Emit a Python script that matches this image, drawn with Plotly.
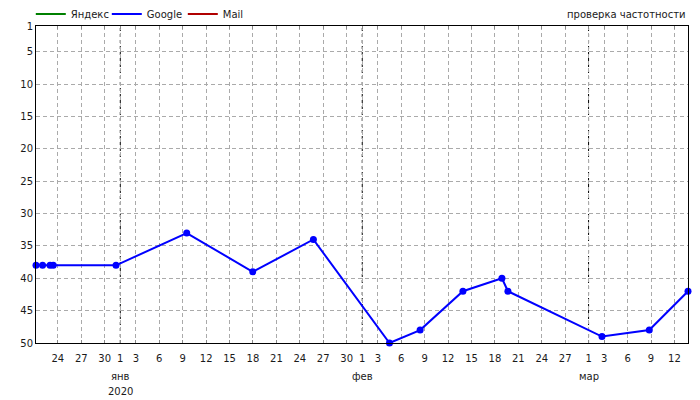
import plotly.graph_objects as go

# ---- data ----
google_dates = [
    "2019-12-21 04:48", "2019-12-22 01:00", "2019-12-23 00:00", "2019-12-23 09:50",
    "2019-12-31 10:50", "2020-01-09 12:20", "2020-01-17 23:20", "2020-01-25 17:50",
    "2020-02-04 11:45", "2020-02-08 10:00", "2020-02-13 21:35", "2020-02-18 21:35",
    "2020-02-19 16:00", "2020-03-02 17:15", "2020-03-08 18:45", "2020-03-13 17:45",
]
google_pos = [38, 38, 38, 38, 38, 33, 39, 34, 50, 48, 42, 40, 42, 49, 48, 42]

yandex_dates = [None]
yandex_pos = [None]
mail_dates = [None]
mail_pos = [None]

tick_dates = [
    "2019-12-24", "2019-12-27", "2019-12-30", "2020-01-01", "2020-01-03", "2020-01-06",
    "2020-01-09", "2020-01-12", "2020-01-15", "2020-01-18", "2020-01-21", "2020-01-24",
    "2020-01-27", "2020-01-30", "2020-02-01", "2020-02-03", "2020-02-06", "2020-02-09",
    "2020-02-12", "2020-02-15", "2020-02-18", "2020-02-21", "2020-02-24", "2020-02-27",
    "2020-03-01", "2020-03-03", "2020-03-06", "2020-03-09", "2020-03-12",
]
tick_text = [d[-2:].lstrip("0") for d in tick_dates]

month_starts = ["2020-01-01", "2020-02-01", "2020-03-01"]
month_names = ["янв", "фев", "мар"]
year_label = "2020"

y_ticks = [1, 5, 10, 15, 20, 25, 30, 35, 40, 45, 50]

FONT = "DejaVu Sans, Verdana, sans-serif"
TXT = "#1a1a1a"
FS = 10

fig = go.Figure()
fig.add_trace(go.Scatter(x=yandex_dates, y=yandex_pos, name="Яндекс", mode="lines",
                         line=dict(color="#008000", width=2)))
# legend entry for Google (line only, as in the reference legend)
fig.add_trace(go.Scatter(x=[None], y=[None], name="Google", mode="lines",
                         legendgroup="g", line=dict(color="#0000FF", width=2)))
fig.add_trace(go.Scatter(x=mail_dates, y=mail_pos, name="Mail", mode="lines",
                         line=dict(color="#B00000", width=2)))
fig.add_trace(go.Scatter(x=google_dates, y=google_pos, name="Google", mode="lines+markers",
                         legendgroup="g", showlegend=False,
                         line=dict(color="#0000FF", width=2),
                         marker=dict(color="#0000FF", size=7), cliponaxis=False))

for d in month_starts:
    fig.add_shape(type="line", x0=d, x1=d, xref="x", y0=0, y1=1, yref="paper",
                  line=dict(color="black", width=1, dash="3px,3px"), layer="between")

for d, name in zip(month_starts, month_names):
    fig.add_annotation(x=d, xref="x", y=-0.106, yref="paper", yanchor="middle",
                       text=name, showarrow=False, font=dict(size=FS, color=TXT, family=FONT))
fig.add_annotation(x=month_starts[0], xref="x", y=-0.154, yref="paper", yanchor="middle",
                   text=year_label, showarrow=False, font=dict(size=FS, color=TXT, family=FONT))

fig.add_annotation(x=1, xref="paper", xanchor="right", y=1.037, yref="paper", yanchor="middle",
                   text="проверка частотности", showarrow=False,
                   font=dict(size=FS, color=TXT, family=FONT))

fig.update_layout(
    width=700, height=400,
    margin=dict(l=36, r=12, t=26, b=57, autoexpand=False),
    paper_bgcolor="white", plot_bgcolor="white",
    font=dict(family=FONT, size=FS, color=TXT),
    showlegend=True,
    legend=dict(orientation="h", x=0.044, xref="container", y=0.965, yref="container",
                yanchor="middle", font=dict(size=FS, color=TXT, family=FONT),
                bgcolor="rgba(0,0,0,0)", itemwidth=30, tracegroupgap=0,
                entrywidth=31),
    xaxis=dict(
        type="date", range=[google_dates[0], google_dates[-1]],
        tickmode="array", tickvals=tick_dates, ticktext=tick_text, tickangle=0,
        showgrid=True, gridcolor="#aaaaaa", griddash="4px,3px", gridwidth=1,
        showline=True, linecolor="black", linewidth=1, mirror="ticks",
        ticks="inside", ticklen=3, tickcolor="#888888",
        ticklabelstandoff=6,
        tickfont=dict(size=FS, color=TXT, family=FONT),
        zeroline=False,
    ),
    yaxis=dict(
        range=[50, 1], tickmode="array", tickvals=y_ticks,
        showgrid=True, gridcolor="#aaaaaa", griddash="4px,3px", gridwidth=1,
        showline=True, linecolor="black", linewidth=1, mirror=True,
        ticks="", tickfont=dict(size=FS, color=TXT, family=FONT),
        zeroline=False,
    ),
)

fig.write_html("out.html", config={"displayModeBar": False},
               post_script="document.body.style.margin='0px';")
